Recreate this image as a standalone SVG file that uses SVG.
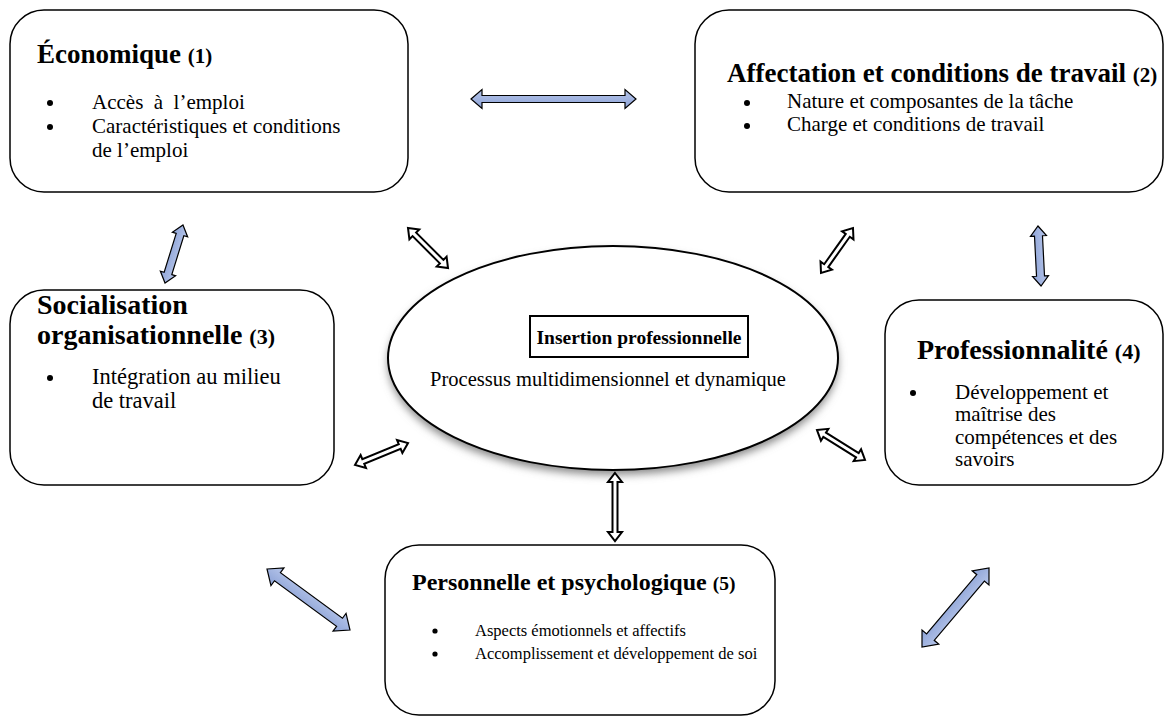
<svg xmlns="http://www.w3.org/2000/svg" width="1166" height="717" viewBox="0 0 1166 717">
  <style>
    .box { fill: #ffffff; stroke: #000000; stroke-width: 1.5; }
    .t { font-family: "Liberation Serif", "Times New Roman", serif; font-weight: bold; font-size: 27px; fill: #000; }
    .n { font-size: 21px; }
    .b { font-family: "Liberation Serif", "Times New Roman", serif; font-size: 21px; fill: #000; }
    .dot { fill: #000; }
    .blue { fill: url(#blueFill); stroke: #000; stroke-width: 1.2; stroke-linejoin: miter; }
    .open { fill: #ffffff; stroke: #000; stroke-width: 2; stroke-linejoin: miter; }
  </style>
  <defs>
    <linearGradient id="blueFill" x1="0" y1="0" x2="0" y2="1">
      <stop offset="0" stop-color="#b7c6ea"/>
      <stop offset="1" stop-color="#8ca2d6"/>
    </linearGradient>
    <filter id="softShadow" x="-10%" y="-10%" width="120%" height="130%">
      <feGaussianBlur stdDeviation="4"/>
    </filter>
  </defs>

  <rect width="1166" height="717" fill="#ffffff"/>

  <!-- central node -->
  <g id="node-insertion">
    <ellipse cx="613" cy="363" rx="225" ry="112" fill="#888" filter="url(#softShadow)"/>
    <ellipse cx="613" cy="358" rx="225" ry="112" fill="#ffffff" stroke="#000" stroke-width="2"/>
    <rect x="530" y="316" width="218" height="41" fill="#ffffff" stroke="#000" stroke-width="2"/>
    <text class="t" x="639" y="344" text-anchor="middle" style="font-size:19.5px">Insertion professionnelle</text>
    <text class="b" x="608" y="386" text-anchor="middle" style="font-size:20.5px">Processus multidimensionnel et dynamique</text>
  </g>

  <g id="node-economique">
    <rect class="box" x="10" y="10" width="398" height="182" rx="34"/>
    <text class="t" x="37" y="63">Économique <tspan class="n">(1)</tspan></text>
    <circle class="dot" cx="50" cy="103" r="3"/>
    <circle class="dot" cx="50" cy="127" r="3"/>
    <text class="b" x="92" y="109">Accès&#160; à&#160; l’emploi</text>
    <text class="b" x="92" y="133">Caractéristiques et conditions</text>
    <text class="b" x="92" y="157">de l’emploi</text>
  </g>

  <g id="node-affectation">
    <rect class="box" x="695" y="10" width="468" height="182" rx="34"/>
    <text class="t" x="727" y="82">Affectation et conditions de travail <tspan class="n">(2)</tspan></text>
    <circle class="dot" cx="747" cy="103" r="3"/>
    <circle class="dot" cx="747" cy="126" r="3"/>
    <text class="b" x="787" y="108">Nature et composantes de la tâche</text>
    <text class="b" x="787" y="131">Charge et conditions de travail</text>
  </g>

  <g id="node-socialisation">
    <rect class="box" x="10" y="290" width="324" height="195" rx="34"/>
    <text class="t" x="37" y="314" style="font-size:28px">Socialisation</text>
    <text class="t" x="37" y="344" style="font-size:28px">organisationnelle <tspan class="n" style="font-size:22px">(3)</tspan></text>
    <circle class="dot" cx="50" cy="378" r="3"/>
    <text class="b" x="92" y="384" style="font-size:22.5px">Intégration au milieu</text>
    <text class="b" x="92" y="408" style="font-size:22.5px">de travail</text>
  </g>

  <g id="node-professionnalite">
    <rect class="box" x="885" y="300" width="278" height="185" rx="34"/>
    <text class="t" x="917" y="359" style="font-size:28px">Professionnalité <tspan class="n" style="font-size:22px">(4)</tspan></text>
    <circle class="dot" cx="913" cy="393" r="3"/>
    <text class="b" x="955" y="399">Développement et</text>
    <text class="b" x="955" y="421">maîtrise des</text>
    <text class="b" x="955" y="444">compétences et des</text>
    <text class="b" x="955" y="466">savoirs</text>
  </g>

  <g id="node-personnelle">
    <rect class="box" x="385" y="545" width="390" height="170" rx="34"/>
    <text class="t" x="412" y="590" style="font-size:24px">Personnelle et psychologique <tspan class="n" style="font-size:19.5px">(5)</tspan></text>
    <circle class="dot" cx="435" cy="631" r="2.6"/>
    <circle class="dot" cx="435" cy="654" r="2.6"/>
    <text class="b" x="475" y="636" style="font-size:16.5px">Aspects émotionnels et affectifs</text>
    <text class="b" x="475" y="659" style="font-size:16.5px">Accomplissement et développement de soi</text>
  </g>

  <!-- two-headed block arrows -->
  <g id="connectors">
    <polygon class="blue" transform="translate(553.5,99)" points="-82.5,0 -71.5,-9.5 -71.5,-3.5 71.5,-3.5 71.5,-9.5 82.5,0 71.5,9.5 71.5,3.5 -71.5,3.5 -71.5,9.5"/>
    <polygon class="blue" transform="translate(174,254) rotate(107.2)" points="-30.35,0 -20.35,-8 -20.35,-4 20.35,-4 20.35,-8 30.35,0 20.35,8 20.35,4 -20.35,4 -20.35,8"/>
    <polygon class="blue" transform="translate(1039.5,256) rotate(87.1)" points="-30.05,0 -20.05,-8 -20.05,-4 20.05,-4 20.05,-8 30.05,0 20.05,8 20.05,4 -20.05,4 -20.05,8"/>
    <polygon class="blue" transform="translate(308.5,599.5) rotate(36.3)" points="-51.5,0 -38.5,-11 -38.5,-5 38.5,-5 38.5,-11 51.5,0 38.5,11 38.5,5 -38.5,5 -38.5,11"/>
    <polygon class="blue" transform="translate(955.5,607.5) rotate(130.3)" points="-51.8,0 -38.8,-11 -38.8,-5 38.8,-5 38.8,-11 51.8,0 38.8,11 38.8,5 -38.8,5 -38.8,11"/>

    <polygon class="open" transform="translate(428,248) rotate(45)" points="-28.3,0 -19.3,-7 -19.3,-2.5 19.3,-2.5 19.3,-7 28.3,0 19.3,7 19.3,2.5 -19.3,2.5 -19.3,7"/>
    <polygon class="open" transform="translate(837,250.5) rotate(125.4)" points="-27.6,0 -18.6,-7 -18.6,-2.5 18.6,-2.5 18.6,-7 27.6,0 18.6,7 18.6,2.5 -18.6,2.5 -18.6,7"/>
    <polygon class="open" transform="translate(381.5,454) rotate(-22.5)" points="-28.7,0 -19.7,-7 -19.7,-2.5 19.7,-2.5 19.7,-7 28.7,0 19.7,7 19.7,2.5 -19.7,2.5 -19.7,7"/>
    <polygon class="open" transform="translate(841,445) rotate(32)" points="-28.3,0 -19.3,-7 -19.3,-2.5 19.3,-2.5 19.3,-7 28.3,0 19.3,7 19.3,2.5 -19.3,2.5 -19.3,7"/>
    <polygon class="open" transform="translate(615,507) rotate(90)" points="-34,0 -25,-7 -25,-2.5 25,-2.5 25,-7 34,0 25,7 25,2.5 -25,2.5 -25,7"/>
  </g>
</svg>
